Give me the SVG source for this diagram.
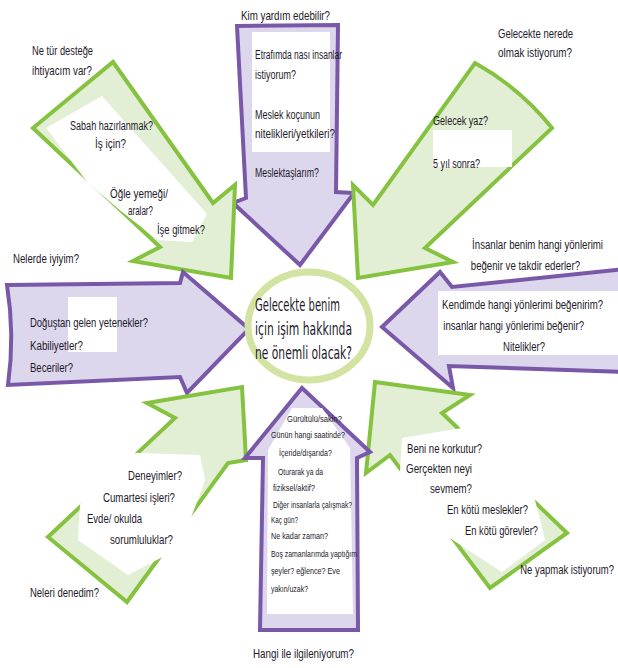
<svg xmlns="http://www.w3.org/2000/svg" width="618" height="668" viewBox="0 0 618 668">
<style>
.pa{fill:#ddd7ed;stroke:#7a58a8;stroke-width:4;stroke-linejoin:miter}
.ga{fill:#e3efd5;stroke:#85c240;stroke-width:4;stroke-linejoin:miter}
.wh{fill:#ffffff}
text{font-family:'Liberation Sans Narrow','Liberation Sans',Arial,sans-serif;fill:#1e1a2a}
.o{font-size:13.5px}
.i{font-size:12.5px}
.s{font-size:9px}
.e{text-anchor:end}
.c{font-size:18px;font-family:'DejaVu Sans','Liberation Sans',sans-serif}
</style>
<rect width="618" height="668" fill="#ffffff"/>
<g id="connectors"></g>

<g id="top-arrow">
<polygon class="pa" points="237,26 338,25 336,192 354,193 300,265 233,203 246,198"/>
<rect class="wh" x="252" y="32" width="78" height="120"/>
<text class="o" x="241" y="20" textLength="89" lengthAdjust="spacingAndGlyphs">Kim yardım edebilir?</text>
<text class="i" x="255" y="59" textLength="87" lengthAdjust="spacingAndGlyphs">Etrafımda nası insanlar</text>
<text class="i" x="255" y="79" textLength="41" lengthAdjust="spacingAndGlyphs">istiyorum?</text>
<text class="i" x="255" y="119" textLength="65" lengthAdjust="spacingAndGlyphs">Meslek koçunun</text>
<text class="i" x="255" y="138" textLength="80" lengthAdjust="spacingAndGlyphs">nitelikleri/yetkileri?</text>
<text class="i" x="255" y="177" textLength="64" lengthAdjust="spacingAndGlyphs">Meslektaşlarım?</text>
</g>

<g id="top-left-arrow">
<polygon class="ga" points="113,62 213,203 235,185 231,278 133,261 160,247 33,128"/>
<polygon class="wh" points="46,128 102,96 150,150 207,214 192,242 158,240 122,212 88,183"/>
<text class="o" x="32" y="55" textLength="61" lengthAdjust="spacingAndGlyphs">Ne tür desteğe</text>
<text class="o" x="32" y="75" textLength="60" lengthAdjust="spacingAndGlyphs">ihtiyacım var?</text>
<text class="i" x="70" y="130" textLength="83" lengthAdjust="spacingAndGlyphs">Sabah hazırlanmak?</text>
<text class="i" x="95" y="148" textLength="31" lengthAdjust="spacingAndGlyphs">İş için?</text>
<text class="i" x="110" y="198" textLength="58" lengthAdjust="spacingAndGlyphs">Öğle yemeği/</text>
<text class="i" x="128" y="215" textLength="25" lengthAdjust="spacingAndGlyphs">aralar?</text>
<text class="i" x="157" y="234" textLength="48" lengthAdjust="spacingAndGlyphs">İşe gitmek?</text>
</g>

<g id="top-right-arrow">
<path class="ga" d="M475,63 Q520,88 552,128 L425,248 L453,262 L358,278 L353,185 L373,205 Z"/>
<rect class="wh" x="433" y="130" width="79" height="37"/>
<text class="o e" x="573" y="38" textLength="75" lengthAdjust="spacingAndGlyphs">Gelecekte nerede</text>
<text class="o e" x="572" y="57" textLength="74" lengthAdjust="spacingAndGlyphs">olmak istiyorum?</text>
<text class="i" x="433" y="125" textLength="55" lengthAdjust="spacingAndGlyphs">Gelecek yaz?</text>
<text class="i" x="433" y="168" textLength="47" lengthAdjust="spacingAndGlyphs">5 yıl sonra?</text>
</g>

<g id="left-arrow">
<path class="pa" d="M7,285 L180,283 L183,272 L249,329 L187,393 L180,377 L8,385 Q15,335 7,285 Z"/>
<rect class="wh" x="68" y="297" width="49" height="55"/>
<text class="o" x="13" y="263" textLength="66" lengthAdjust="spacingAndGlyphs">Nelerde iyiyim?</text>
<text class="i" x="30" y="327" textLength="118" lengthAdjust="spacingAndGlyphs">Doğuştan gelen yetenekler?</text>
<text class="i" x="30" y="350" textLength="53" lengthAdjust="spacingAndGlyphs">Kabiliyetler?</text>
<text class="i" x="30" y="372" textLength="43" lengthAdjust="spacingAndGlyphs">Beceriler?</text>
</g>

<g id="right-arrow">
<polygon class="pa" points="625,269 452,287 440,272 382,327 453,388 449,366 625,372"/>
<rect class="wh" x="438" y="291" width="180" height="64"/>
<text class="o e" transform="translate(603,249) scale(0.7,1)" x="0" y="0" textLength="187" lengthAdjust="spacingAndGlyphs">İnsanlar benim hangi yönlerimi</text>
<text class="o e" transform="translate(580,270) scale(0.7,1)" x="0" y="0" textLength="156" lengthAdjust="spacingAndGlyphs">beğenir ve takdir ederler?</text>
<text class="i e" transform="translate(603,309) scale(0.7,1)" x="0" y="0" textLength="230" lengthAdjust="spacingAndGlyphs">Kendimde hangi yönlerimi beğenirim?</text>
<text class="i e" transform="translate(584,330) scale(0.7,1)" x="0" y="0" textLength="201" lengthAdjust="spacingAndGlyphs">insanlar hangi yönlerimi beğenir?</text>
<text class="i" x="503" y="351" textLength="42" lengthAdjust="spacingAndGlyphs">Nitelikler?</text>
</g>

<g id="bottom-left-arrow">
<polygon class="ga" points="242,387 246,460 228,463 127,602 48,537 175,418 147,403"/>
<polygon class="wh" points="110,452 200,455 205,480 180,548 128,575 78,540 80,505"/>
<text class="o" x="30" y="597" textLength="69" lengthAdjust="spacingAndGlyphs">Neleri denedim?</text>
<text class="i" x="128" y="480" textLength="54" lengthAdjust="spacingAndGlyphs">Deneyimler?</text>
<text class="i" x="103" y="502" textLength="72" lengthAdjust="spacingAndGlyphs">Cumartesi işleri?</text>
<text class="i" x="87" y="523" textLength="55" lengthAdjust="spacingAndGlyphs">Evde/ okulda</text>
<text class="i" x="110" y="544" textLength="63" lengthAdjust="spacingAndGlyphs">sorumluluklar?</text>
</g>

<g id="bottom-right-arrow">
<polygon class="ga" points="375,382 470,395 442,413 567,533 490,588 390,455 366,473"/>
<polygon class="wh" points="402,438 468,427 532,488 545,540 502,572 422,520 400,472"/>
<text class="o e" transform="translate(614,574) scale(0.7,1)" x="0" y="0" textLength="134" lengthAdjust="spacingAndGlyphs">Ne yapmak istiyorum?</text>
<text class="i" x="407" y="453" textLength="75" lengthAdjust="spacingAndGlyphs">Beni ne korkutur?</text>
<text class="i" x="406" y="473" textLength="66" lengthAdjust="spacingAndGlyphs">Gerçekten neyi</text>
<text class="i" x="430" y="493" textLength="42" lengthAdjust="spacingAndGlyphs">sevmem?</text>
<text class="i" x="447" y="514" textLength="81" lengthAdjust="spacingAndGlyphs">En kötü meslekler?</text>
<text class="i" x="465" y="535" textLength="73" lengthAdjust="spacingAndGlyphs">En kötü görevler?</text>
</g>

<g id="bottom-arrow">
<polygon class="pa" points="302,388 370,452 357,458 358,630 260,630 263,458 245,458"/>
<polygon class="wh" points="292,408 322,408 350,448 353,614 267,614 268,450"/>
<text class="o" x="253" y="658" textLength="101" lengthAdjust="spacingAndGlyphs">Hangi ile ilgileniyorum?</text>
<text class="s" x="287" y="422" textLength="55" lengthAdjust="spacingAndGlyphs">Gürültülü/sakin?</text>
<text class="s" x="271" y="438" textLength="74" lengthAdjust="spacingAndGlyphs">Günün hangi saatinde?</text>
<text class="s" x="279" y="456" textLength="53" lengthAdjust="spacingAndGlyphs">İçeride/dışarıda?</text>
<text class="s" x="278" y="475" textLength="45" lengthAdjust="spacingAndGlyphs">Oturarak ya da</text>
<text class="s" x="273" y="491" textLength="42" lengthAdjust="spacingAndGlyphs">fiziksel/aktif?</text>
<text class="s" x="273" y="508" textLength="79" lengthAdjust="spacingAndGlyphs">Diğer insanlarla çalışmak?</text>
<text class="s" x="271" y="523" textLength="27" lengthAdjust="spacingAndGlyphs">Kaç gün?</text>
<text class="s" x="271" y="539" textLength="57" lengthAdjust="spacingAndGlyphs">Ne kadar zaman?</text>
<text class="s" x="271" y="557" textLength="86" lengthAdjust="spacingAndGlyphs">Boş zamanlarımda yaptığım</text>
<text class="s" x="271" y="574" textLength="69" lengthAdjust="spacingAndGlyphs">şeyler? eğlence? Eve</text>
<text class="s" x="271" y="592" textLength="37" lengthAdjust="spacingAndGlyphs">yakın/uzak?</text>
</g>

<g id="center">
<ellipse cx="309" cy="326" rx="61" ry="54" fill="#ffffff" stroke="#d2e3a2" stroke-width="7"/>
<text class="c" x="255" y="311" textLength="85" lengthAdjust="spacingAndGlyphs">Gelecekte benim</text>
<text class="c" x="255" y="335" textLength="97" lengthAdjust="spacingAndGlyphs">için işim hakkında</text>
<text class="c" x="255" y="359" textLength="97" lengthAdjust="spacingAndGlyphs">ne önemli olacak?</text>
</g>
</svg>
